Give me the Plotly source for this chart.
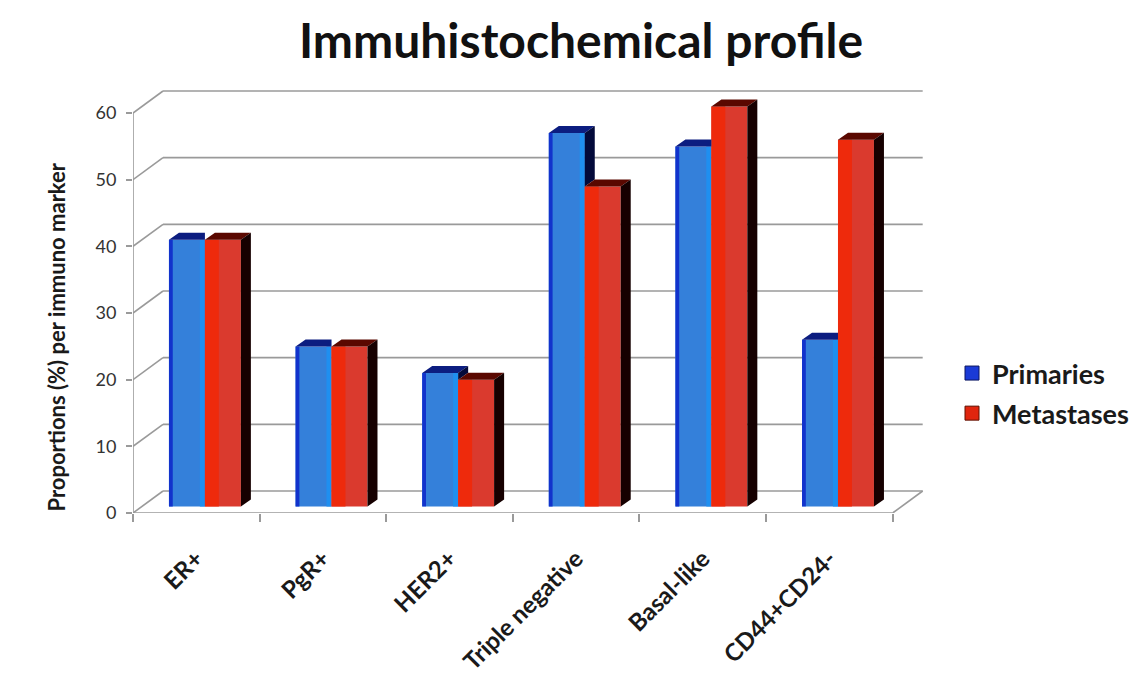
import plotly.graph_objects as go

# ---- data ----
categories = ["ER+", "PgR+", "HER2+", "Triple negative", "Basal-like", "CD44+CD24-"]
primaries = [40, 24, 20, 56, 54, 25]
metastases = [40, 24, 19, 48, 60, 55]
y_tick_values = [0, 10, 20, 30, 40, 50, 60]

# ---- pseudo-3D geometry (axis units) ----
WALL_DX, WALL_DY = 0.237, 3.3      # depth of the back wall
BAR_W = 0.284                       # width of one bar
BAR_SHIFT = 0.068                   # bars sit partway back on the floor
BASE = 0.99
DEPTH_DX, DEPTH_DY = 0.079, 1.05    # depth of each bar

BLUE_FRONT, BLUE_EDGE, BLUE_LIGHT = "#3480da", "#1233cc", "#1f8ff0"
BLUE_TOP, BLUE_SIDE = "#0c1d80", "#030a3a"
RED_FRONT, RED_LEFT = "#da3a2e", "#ee2a0c"
RED_TOP, RED_SIDE = "#5a0800", "#160000"

n = len(categories)
centers = [i + 0.5 for i in range(n)]
mids = [c + BAR_SHIFT for c in centers]

fig = go.Figure()


def bar(values, offset, width, color):
    fig.add_trace(go.Bar(
        x=mids, y=values, base=BASE, offset=offset, width=width,
        marker=dict(color=color, line=dict(width=0)),
        showlegend=False, hoverinfo="skip"))


# front faces
bar(primaries, -BAR_W, BAR_W, BLUE_FRONT)
bar(primaries, -BAR_W, 0.03, BLUE_EDGE)
bar(primaries, -0.04, 0.04, BLUE_LIGHT)
bar(metastases, 0, BAR_W, RED_FRONT)
bar(metastases, 0, 0.11, RED_LEFT)


def polys(shapes, color):
    xs, ys = [], []
    for pts in shapes:
        if not pts:
            continue
        for px, py in pts + [pts[0]]:
            xs.append(px)
            ys.append(py)
        xs.append(None)
        ys.append(None)
    fig.add_trace(go.Scatter(
        x=xs, y=ys, mode="lines", fill="toself", fillcolor=color,
        line=dict(width=0, color=color), showlegend=False, hoverinfo="skip"))


blue_tops, blue_sides, red_tops, red_sides = [], [], [], []
for m, p, q in zip(mids, primaries, metastases):
    x0, xc, x1 = m - BAR_W, m, m + BAR_W
    bt, rt = BASE + p, BASE + q
    if rt >= bt:
        blue_tops.append([(x0, bt), (x0 + DEPTH_DX, bt + DEPTH_DY),
                          (xc, bt + DEPTH_DY), (xc, bt)])
    else:
        blue_tops.append([(x0, bt), (x0 + DEPTH_DX, bt + DEPTH_DY),
                          (xc + DEPTH_DX, bt + DEPTH_DY), (xc, bt)])
        blue_sides.append([(xc, rt), (xc + DEPTH_DX, rt + DEPTH_DY),
                           (xc + DEPTH_DX, bt + DEPTH_DY), (xc, bt)])
    red_tops.append([(xc, rt), (xc + DEPTH_DX, rt + DEPTH_DY),
                     (x1 + DEPTH_DX, rt + DEPTH_DY), (x1, rt)])
    red_sides.append([(x1, BASE), (x1 + DEPTH_DX, BASE + DEPTH_DY),
                      (x1 + DEPTH_DX, rt + DEPTH_DY), (x1, rt)])

polys(blue_tops, BLUE_TOP)
polys(blue_sides, BLUE_SIDE)
polys(red_tops, RED_TOP)
polys(red_sides, RED_SIDE)

# legend entries
fig.add_trace(go.Scatter(x=[None], y=[None], mode="markers", name="Primaries",
                         legendgroup="a",
                         marker=dict(symbol="square", size=14, color="#1a3ad6",
                                     line=dict(width=1, color="#0a1560"))))
fig.add_trace(go.Scatter(x=[None], y=[None], mode="markers", name="Metastases",
                         legendgroup="b",
                         marker=dict(symbol="square", size=14, color="#e0250e",
                                     line=dict(width=1, color="#601000"))))

# walls, floor and gridlines
GRID = dict(color="#9a9a9a", width=1.6)
shapes = []
for v in y_tick_values:
    shapes.append(dict(type="line", xref="x", yref="y", x0=0, y0=v,
                       x1=WALL_DX, y1=v + WALL_DY, line=GRID, layer="below"))
    shapes.append(dict(type="line", xref="x", yref="y", x0=WALL_DX, y0=v + WALL_DY,
                       x1=n + WALL_DX, y1=v + WALL_DY, line=GRID, layer="below"))
shapes.append(dict(type="line", xref="x", yref="y", x0=n, y0=0,
                   x1=n + WALL_DX, y1=WALL_DY, line=GRID, layer="below"))
shapes.append(dict(type="line", xref="x", yref="y", x0=0, y0=0,
                   x1=n, y1=0, line=GRID, layer="below"))
shapes.append(dict(type="line", xref="x", yref="y", x0=0, y0=0,
                   x1=0, y1=max(y_tick_values), line=GRID, layer="below"))

FONT = "Lato, 'Open Sans', sans-serif"

fig.update_layout(
    width=1146, height=695,
    margin=dict(l=133, r=209, t=83, b=182),
    paper_bgcolor="white", plot_bgcolor="white",
    barmode="overlay",
    shapes=shapes,
    title=dict(text="<b>Immuhistochemical profile</b>", x=581 / 1146, xanchor="center",
               y=1 - 41 / 695, yanchor="middle",
               font=dict(family=FONT, size=48, color="#111")),
    legend=dict(xref="container", yref="container", x=952 / 1146, y=1 - 349 / 695,
                xanchor="left", yanchor="top", tracegroupgap=2,
                font=dict(family=FONT, size=27, color="#1a1a1a", weight="bold"),
                bgcolor="rgba(0,0,0,0)"),
    annotations=[dict(text="<b>Proportions (%) per immuno marker</b>", xref="paper",
                      yref="paper", x=(40 - 133) / 804, y=(513 - 337) / 430,
                      textangle=-90, showarrow=False,
                      font=dict(family=FONT, size=22, color="#1a1a1a"))],
    xaxis=dict(range=[0, n + 0.35], tickvals=centers, ticktext=categories,
               tickangle=-45, ticks="", showgrid=False, zeroline=False, showline=False,
               ticklabelstandoff=26,
               tickfont=dict(family=FONT, size=24, color="#1a1a1a", weight="bold"),
               minor=dict(ticks="outside", tick0=0, dtick=1, ticklen=8,
                          tickcolor="#9a9a9a", tickwidth=1.6, showgrid=False),
               fixedrange=True),
    yaxis=dict(range=[0, 64.5], tickvals=y_tick_values, ticks="outside", ticklen=6,
               tickcolor="#9a9a9a", tickwidth=1.6, showgrid=False, zeroline=False,
               showline=False, ticklabelstandoff=6,
               tickfont=dict(family=FONT, size=18, color="#333"), fixedrange=True),
)

fig.write_html("out.html")
